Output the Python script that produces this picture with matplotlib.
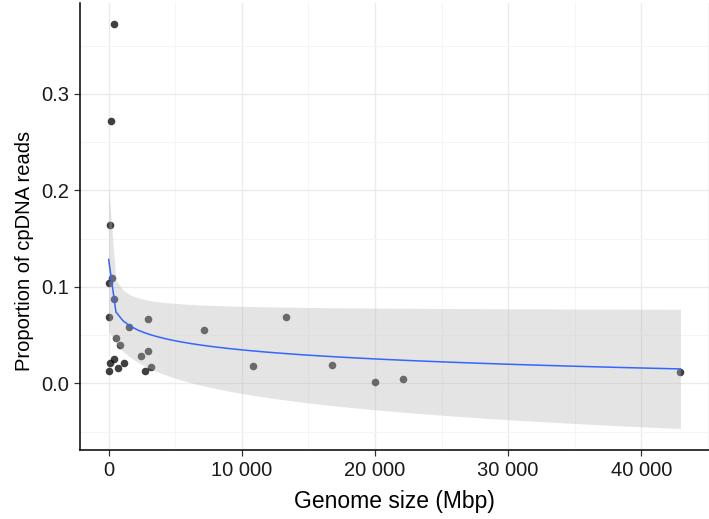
import numpy as np
import matplotlib
matplotlib.use("Agg")
import matplotlib.pyplot as plt
from matplotlib.ticker import FuncFormatter, MultipleLocator

plt.rcParams['font.family'] = ['Liberation Sans', 'DejaVu Sans']

# genome size (Mbp) and proportion of cpDNA reads
genome_size = [406, 180, 128, 225, 10, 376, 12, 2934, 1557, 557, 858, 2987, 2407, 406,
               128, 1181, 730, 30, 2738, 3160, 7200, 13315, 10848, 16738, 19988, 22071, 42930]
cp_prop = [0.372, 0.272, 0.164, 0.109, 0.104, 0.087, 0.069, 0.067, 0.058, 0.047, 0.040,
           0.034, 0.028, 0.0255, 0.0213, 0.021, 0.016, 0.013, 0.013, 0.0165, 0.0553,
           0.0686, 0.0177, 0.0195, 0.0015, 0.0048, 0.012]

x = np.array(genome_size, dtype=float)
y = np.array(cp_prop)

# lm(y ~ log(x)) with 95% confidence band, like geom_smooth
X = np.column_stack([np.ones_like(x), np.log(x)])
beta, *_ = np.linalg.lstsq(X, y, rcond=None)
resid = y - X @ beta
n = len(y)
s2 = resid @ resid / (n - 2)
cov = s2 * np.linalg.inv(X.T @ X)
t_crit = 2.0595  # t(0.975, df=25)

xs = np.linspace(x.min(), x.max(), 80)
Xs = np.column_stack([np.ones_like(xs), np.log(xs)])
fit = Xs @ beta
se = np.sqrt(np.einsum('ij,jk,ik->i', Xs, cov, Xs))
lo, hi = fit - t_crit * se, fit + t_crit * se

fig = plt.figure(figsize=(7.09, 5.19), dpi=100)
ax = fig.add_axes([0.113, 0.133, 0.887, 0.861])

ax.scatter(x, y, s=30, color='black', alpha=0.75, linewidths=0, zorder=3)
ax.fill_between(xs, lo, hi, color='#b6b6b6', alpha=0.36, linewidth=0, zorder=4)
ax.plot(xs, fit, color='#3366FF', lw=1.1, zorder=5)

xr = x.max() - x.min()
ax.set_xlim(x.min() - 0.05 * xr, x.max() + 0.05 * xr)
ax.set_ylim(-0.069, 0.394)

ax.xaxis.set_major_locator(MultipleLocator(10000))
ax.xaxis.set_minor_locator(MultipleLocator(5000))
ax.yaxis.set_major_locator(MultipleLocator(0.1))
ax.yaxis.set_minor_locator(MultipleLocator(0.05))
ax.xaxis.set_major_formatter(FuncFormatter(lambda v, p: f"{int(v):,}".replace(",", " ")))
ax.yaxis.set_major_formatter(FuncFormatter(lambda v, p: f"{v:.1f}"))

ax.grid(which='major', color='#ebebeb', lw=1.0, zorder=0)
ax.grid(which='minor', color='#f5f5f5', lw=0.7, zorder=0)
ax.set_axisbelow(True)

for side in ['top', 'right']:
    ax.spines[side].set_visible(False)
for side in ['left', 'bottom']:
    ax.spines[side].set_color('black')
    ax.spines[side].set_linewidth(1.1)

ax.tick_params(which='major', length=4, width=0.9, color='#333333',
               labelsize=14.5, labelcolor='#1a1a1a', pad=4)
ax.tick_params(which='minor', length=0)

ax.set_xlabel('Genome size (Mbp)', fontsize=16.5, labelpad=7)
ax.set_ylabel('Proportion of cpDNA reads', fontsize=14.5)
ax.yaxis.set_label_coords(-0.073, 0.445)

fig.savefig('out.png', dpi=100)
